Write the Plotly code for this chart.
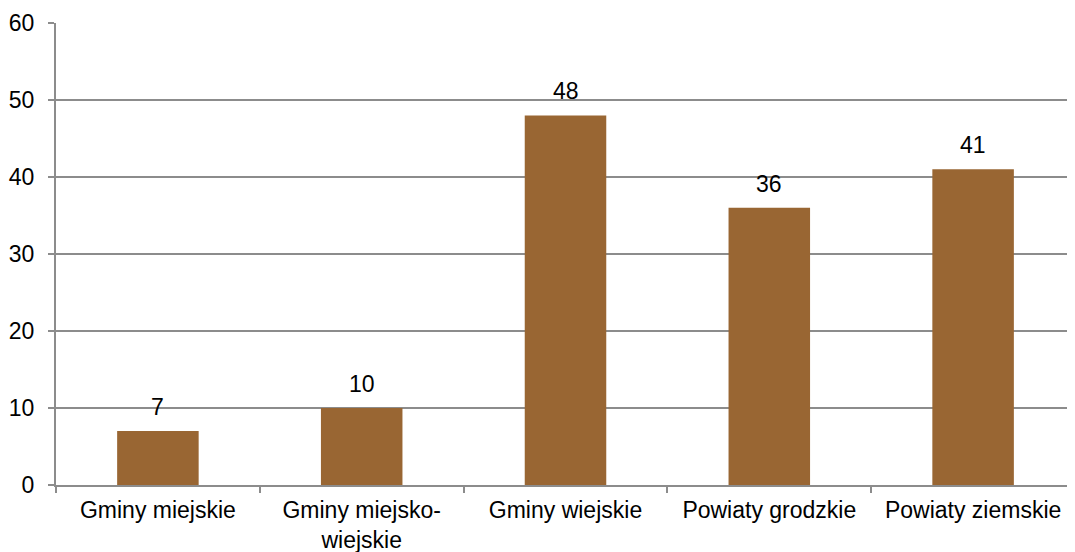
import plotly.graph_objects as go

categories = ["Gminy miejskie", "Gminy miejsko-<br>wiejskie", "Gminy wiejskie", "Powiaty grodzkie", "Powiaty ziemskie"]
values = [7, 10, 48, 36, 41]
y_ticks = [0, 10, 20, 30, 40, 50, 60]

FONT = "Liberation Sans, Arial, sans-serif"
FS = 23

fig = go.Figure(go.Bar(
    x=categories, y=values,
    marker=dict(color="#996633", line=dict(width=0)),
))

for c, v in zip(categories, values):
    fig.add_annotation(
        x=c, y=v, text=str(v), showarrow=False,
        yanchor="bottom", yshift=9,
        font=dict(size=FS, color="#000000", family=FONT),
    )

# page body has an 8px margin; compensate so the plot sits where the reference's does
fig.update_layout(
    width=1067, height=544,
    margin=dict(l=48, r=0, t=15, b=67, autoexpand=False),
    paper_bgcolor="white", plot_bgcolor="white",
    bargap=0.6, showlegend=False,
    font=dict(family=FONT, size=FS, color="#000000"),
)
fig.update_xaxes(
    showline=True, linecolor="#8c8c8c", linewidth=2,
    ticks="outside", tickson="boundaries", ticklen=6, tickcolor="#8c8c8c", tickwidth=2,
    showgrid=False, tickfont=dict(size=FS), tickangle=0, ticklabelstandoff=3,
)
fig.update_yaxes(
    range=[0, 60], tickvals=y_ticks,
    showline=True, linecolor="#8c8c8c", linewidth=2,
    ticks="outside", ticklen=6, tickcolor="#8c8c8c", tickwidth=2,
    showgrid=True, gridcolor="#8c8c8c", gridwidth=2,
    zeroline=False, tickfont=dict(size=FS), ticklabelstandoff=9,
)

fig.write_html("out.html")
